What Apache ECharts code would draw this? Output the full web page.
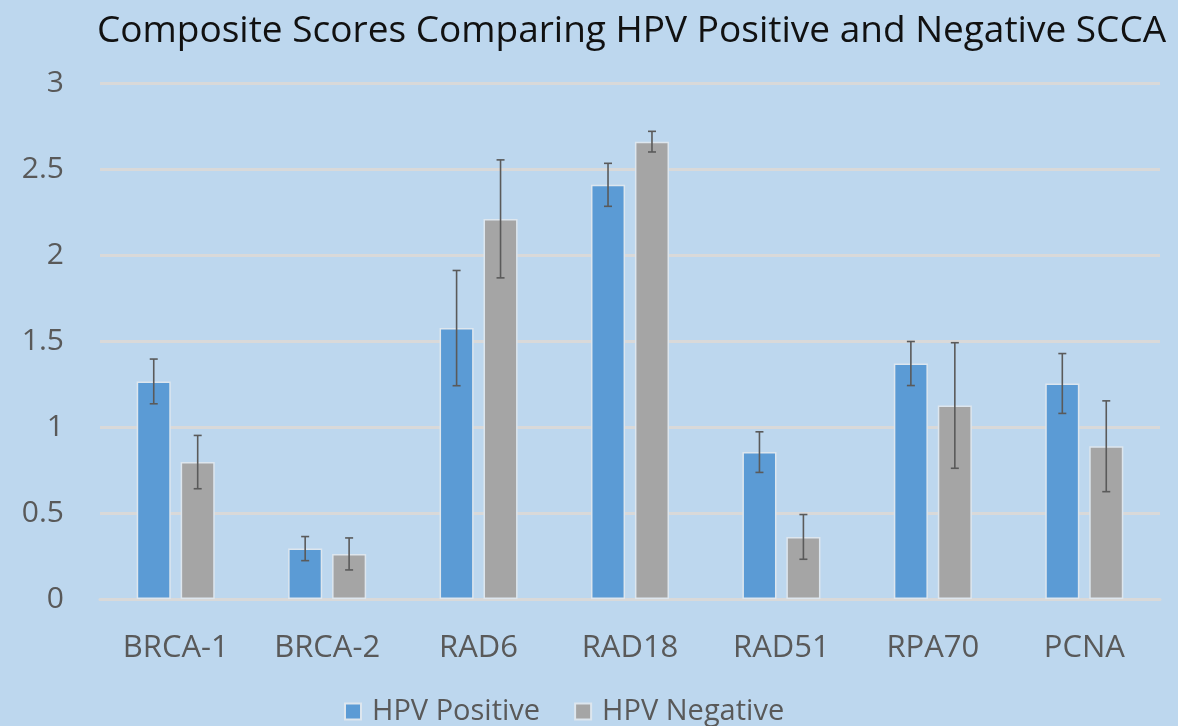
<!DOCTYPE html>
<html><head><meta charset="utf-8">
<script src="https://cdn.jsdelivr.net/npm/echarts@6/dist/echarts.min.js"></script>
<style>html,body{margin:0;padding:0;background:#bdd7ee;}#c{width:1178px;height:726px;}</style>
</head><body><div id="c"></div>
<script>
const categories = ['BRCA-1','BRCA-2','RAD6','RAD18','RAD51','RPA70','PCNA'];
const hpvPositive = [1.265, 0.293, 1.575, 2.408, 0.854, 1.369, 1.253];
const hpvPositiveErr = [0.13, 0.07, 0.335, 0.125, 0.118, 0.128, 0.174];
const hpvNegative = [0.796, 0.262, 2.21, 2.659, 0.361, 1.125, 0.888];
const hpvNegativeErr = [0.155, 0.093, 0.343, 0.06, 0.13, 0.365, 0.264];
const yTicks = { min: 0, max: 3, interval: 0.5 };

const BW = 0.225, GAP = 0.29;
const chart = echarts.init(document.getElementById('c'));
function errSeries(vals, errs, sign) {
  return {
    type: 'custom', z: 10, silent: true,
    data: vals.map((v, i) => [i, v, errs[i]]),
    renderItem: function (params, api) {
      const i = api.value(0), v = api.value(1), e = api.value(2);
      const band = api.size([1, 0])[0];
      const bw = band * BW;
      const off = sign * (bw + bw * GAP) / 2;
      const top = api.coord([i, v + e]);
      const bot = api.coord([i, v - e]);
      const x = top[0] + off;
      const cap = 4;
      const st = { stroke: '#5a5a5a', lineWidth: 1.6 };
      return { type: 'group', children: [
        { type: 'line', shape: { x1: x, y1: top[1], x2: x, y2: bot[1] }, style: st },
        { type: 'line', shape: { x1: x - cap, y1: top[1], x2: x + cap, y2: top[1] }, style: st },
        { type: 'line', shape: { x1: x - cap, y1: bot[1], x2: x + cap, y2: bot[1] }, style: st }
      ]};
    }
  };
}
const textColor = '#595959';
const font = 'Open Sans';
chart.setOption({
  backgroundColor: '#bdd7ee',
  animation: false,
  title: {
    text: 'Composite Scores Comparing HPV Positive and Negative SCCA',
    left: 92, top: 8,
    textStyle: { fontFamily: font, fontWeight: 'normal', fontSize: 37, color: '#111' }
  },
  legend: {
    top: 692, left: 339, itemWidth: 16, itemHeight: 16, itemGap: 34,
    icon: 'rect',
    textStyle: { fontFamily: font, fontSize: 29, color: textColor, padding: [0, 0, 0, 6] },
    data: ['HPV Positive', 'HPV Negative']
  },
  grid: { left: 100, right: 18, top: 83, bottom: 127, containLabel: false },
  xAxis: {
    type: 'category', data: categories,
    axisLine: { show: true, lineStyle: { color: '#d9d9d9', width: 3 } },
    axisTick: { show: false },
    axisLabel: { fontFamily: font, fontSize: 31, color: textColor, margin: 34 }
  },
  yAxis: {
    type: 'value', min: yTicks.min, max: yTicks.max, interval: yTicks.interval,
    axisLine: { show: false }, axisTick: { show: false },
    splitLine: { lineStyle: { color: '#d9d9d9', width: 3 } },
    axisLabel: { fontFamily: font, fontSize: 30, color: textColor, margin: 36 }
  },
  series: [
    { name: 'HPV Positive', type: 'bar', data: hpvPositive, barWidth: (BW * 100) + '%', barGap: (GAP * 100) + '%',
      itemStyle: { color: '#5b9bd5', borderColor: '#dde6ee', borderWidth: 1.5 } },
    { name: 'HPV Negative', type: 'bar', data: hpvNegative, barWidth: (BW * 100) + '%', barGap: (GAP * 100) + '%',
      itemStyle: { color: '#a5a5a5', borderColor: '#dde6ee', borderWidth: 1.5 } },
    errSeries(hpvPositive, hpvPositiveErr, -1),
    errSeries(hpvNegative, hpvNegativeErr, 1)
  ]
});
</script></body></html>
